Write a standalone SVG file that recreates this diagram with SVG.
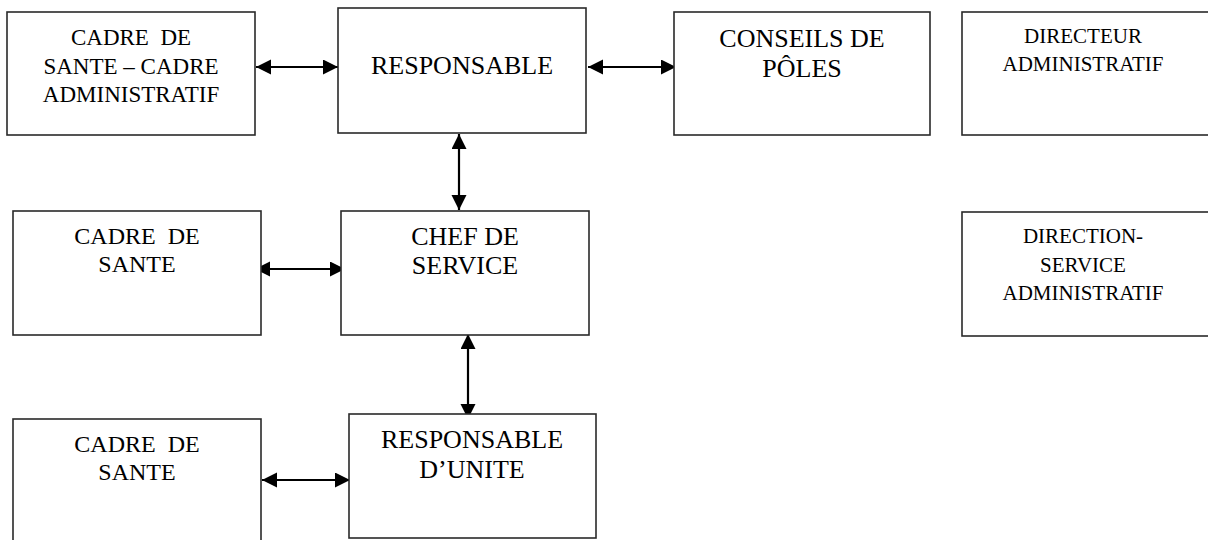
<svg xmlns="http://www.w3.org/2000/svg" width="1208" height="540" viewBox="0 0 1208 540">
<style>
.box{fill:#fff;stroke:#2a2a2a;stroke-width:1.6}
text{font-family:'Liberation Serif','Times New Roman','DejaVu Serif',serif;fill:#000;text-anchor:middle}
.l{font-size:26px}
.m{font-size:24px}
.s{font-size:23px}
.xs{font-size:21px}
.c{stroke:#000;stroke-width:2.2;fill:none;marker-start:url(#ah);marker-end:url(#ah)}
</style>
<defs>
<marker id="ah" markerUnits="userSpaceOnUse" markerWidth="17" markerHeight="16" refX="15" refY="7.5" orient="auto-start-reverse">
<path d="M0,0 L15,7.5 L0,15 Z" fill="#000"/>
</marker>
</defs>
<rect width="1208" height="540" fill="#fff"/>
<g id="connectors">
<line class="c" x1="256" y1="67" x2="338" y2="67"/>
<line class="c" x1="588" y1="67" x2="676" y2="67"/>
<line class="c" x1="459" y1="134" x2="459" y2="210"/>
<line class="c" x1="255" y1="269" x2="345" y2="269"/>
<line class="c" x1="468" y1="334" x2="468" y2="419"/>
<line class="c" x1="262" y1="480" x2="350" y2="480"/>
</g>
<g id="cadre-sante-admin">
<rect class="box" x="7" y="12" width="248" height="123"/>
<text class="s" x="131" y="45" xml:space="preserve">CADRE  DE</text>
<text class="s" x="131" y="74">SANTE – CADRE</text>
<text class="s" x="131" y="102">ADMINISTRATIF</text>
</g>
<g id="responsable">
<rect class="box" x="338" y="8" width="248" height="125"/>
<text class="l" x="462" y="74">RESPONSABLE</text>
</g>
<g id="conseils-poles">
<rect class="box" x="674" y="12" width="256" height="123"/>
<text class="l" x="802" y="47">CONSEILS DE</text>
<text class="l" x="802" y="77">PÔLES</text>
</g>
<g id="directeur-admin">
<rect class="box" x="962" y="12" width="260" height="123"/>
<text class="xs" x="1083" y="43">DIRECTEUR</text>
<text class="xs" x="1083" y="71">ADMINISTRATIF</text>
</g>
<g id="cadre-sante-2">
<rect class="box" x="13" y="211" width="248" height="124"/>
<text class="m" x="137" y="244" xml:space="preserve">CADRE  DE</text>
<text class="m" x="137" y="272">SANTE</text>
</g>
<g id="chef-service">
<rect class="box" x="341" y="211" width="248" height="124"/>
<text class="l" x="465" y="245">CHEF DE</text>
<text class="l" x="465" y="274">SERVICE</text>
</g>
<g id="direction-service-admin">
<rect class="box" x="962" y="212" width="260" height="124"/>
<text class="xs" x="1083" y="243">DIRECTION-</text>
<text class="xs" x="1083" y="272">SERVICE</text>
<text class="xs" x="1083" y="300">ADMINISTRATIF</text>
</g>
<g id="cadre-sante-3">
<rect class="box" x="13" y="419" width="248" height="130"/>
<text class="m" x="137" y="452" xml:space="preserve">CADRE  DE</text>
<text class="m" x="137" y="480">SANTE</text>
</g>
<g id="responsable-unite">
<rect class="box" x="349" y="414" width="247" height="124"/>
<text class="l" x="472" y="448">RESPONSABLE</text>
<text class="l" x="472" y="478">D’UNITE</text>
</g>
</svg>
